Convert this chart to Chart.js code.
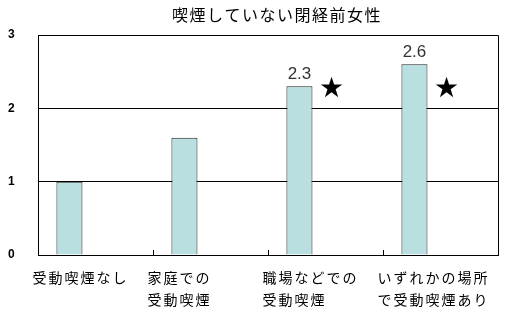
<!DOCTYPE html>
<html>
<head>
<meta charset="utf-8">
<script src="https://cdn.jsdelivr.net/npm/chart.js@4/dist/chart.umd.min.js"></script>
<style>
html,body{margin:0;padding:0;background:#fff;}
#wrap{width:505px;height:309px;position:relative;}
</style>
</head>
<body>
<div id="wrap"><canvas id="c" width="505" height="309"></canvas></div>
<script>
const titleText = '喫煙していない閉経前女性';
const categories = [['受動喫煙なし'], ['家庭での', '受動喫煙'], ['職場などでの', '受動喫煙'], ['いずれかの場所', 'で受動喫煙あり']];
const values = [1.0, 1.6, 2.3, 2.6];
const valueLabels = [null, null, '2.3', '2.6'];
const marks = ['', '', '★', '★'];
const starLevel = 2.25;
const yTicks = [0, 1, 2, 3];

const JP = '"Noto Sans CJK JP", "Noto Sans", sans-serif';

const extras = {
  id: 'extras',
  beforeDraw(chart) {
    chart.ctx.letterSpacing = '2px';
  },
  beforeDatasetsDraw(chart) {
    chart.ctx.letterSpacing = '0px';
    const ctx = chart.ctx, xs = chart.scales.x, a = chart.chartArea;
    ctx.save();
    ctx.strokeStyle = '#000';
    ctx.lineWidth = 1;
    ctx.beginPath();
    ctx.moveTo(Math.round(a.left) + 0.5, Math.round(a.top) + 0.5);
    ctx.lineTo(Math.round(a.right) + 0.5, Math.round(a.top) + 0.5);
    ctx.lineTo(Math.round(a.right) + 0.5, Math.round(a.bottom) + 0.5);
    ctx.stroke();
    for (let i = 0; i < categories.length - 1; i++) {
      const x = Math.round((xs.getPixelForTick(i) + xs.getPixelForTick(i + 1)) / 2) + 0.5;
      ctx.beginPath();
      ctx.moveTo(x, a.bottom);
      ctx.lineTo(x, a.bottom - 5);
      ctx.stroke();
    }
    ctx.restore();
  },
  afterDatasetsDraw(chart) {
    const ctx = chart.ctx;
    const meta = chart.getDatasetMeta(0);
    const ys = chart.scales.y;
    ctx.save();
    ctx.letterSpacing = '0px';
    meta.data.forEach((bar, i) => {
      if (valueLabels[i]) {
        ctx.font = '17px "Liberation Sans", Arial, sans-serif';
        ctx.fillStyle = '#333';
        ctx.textAlign = 'center';
        ctx.textBaseline = 'bottom';
        ctx.fillText(valueLabels[i], bar.x, bar.y - 4);
      }
      if (marks[i]) {
        ctx.font = '28px "DejaVu Sans", sans-serif';
        ctx.fillStyle = '#000';
        ctx.textAlign = 'center';
        ctx.textBaseline = 'middle';
        ctx.fillText(marks[i], bar.x + bar.width / 2 + 19, ys.getPixelForValue(starLevel));
      }
    });
    ctx.font = '16px ' + JP;
    ctx.letterSpacing = '1.5px';
    ctx.fillStyle = '#000';
    ctx.textAlign = 'center';
    ctx.textBaseline = 'middle';
    ctx.fillText(titleText, 277, 15);
    ctx.restore();
  }
};

new Chart(document.getElementById('c'), {
  type: 'bar',
  data: {
    labels: categories,
    datasets: [
      {
        data: values,
        backgroundColor: '#B9DFE1',
        borderColor: '#222',
        borderWidth: 1,
        borderSkipped: 'bottom',
        categoryPercentage: 0.906,
        barPercentage: 0.5
      },
      {
        data: values.map(() => null),
        categoryPercentage: 0.906,
        barPercentage: 0.5
      }
    ]
  },
  options: {
    responsive: false,
    animation: false,
    events: [],
    layout: { padding: { left: 8, right: 7, top: 35, bottom: 0 } },
    plugins: { legend: { display: false }, title: { display: false }, tooltip: { enabled: false } },
    scales: {
      x: {
        offset: true,
        grid: { display: false, drawTicks: false },
        border: { display: true, color: '#000', width: 1 },
        ticks: {
          autoSkip: false,
          maxRotation: 0,
          align: 'start',
          labelOffset: -63,
          padding: 12,
          color: '#000',
          font: { family: JP, size: 14, lineHeight: 1.57 }
        },
        afterFit(s) { s.height = 54; s.paddingLeft = 0; s.paddingRight = 0; }
      },
      y: {
        min: 0,
        max: 3,
        afterBuildTicks(s) { s.ticks = yTicks.map(v => ({ value: v })); },
        grid: { color: '#000', lineWidth: 1, drawTicks: false },
        border: { display: true, color: '#000', width: 1 },
        ticks: {
          crossAlign: 'far',
          padding: 0,
          color: '#000',
          font: { family: '"Liberation Sans", Arial, sans-serif', size: 12, weight: 'bold' }
        },
        afterFit(s) { s.width = 30; }
      }
    }
  },
  plugins: [extras]
});
</script>
</body>
</html>
